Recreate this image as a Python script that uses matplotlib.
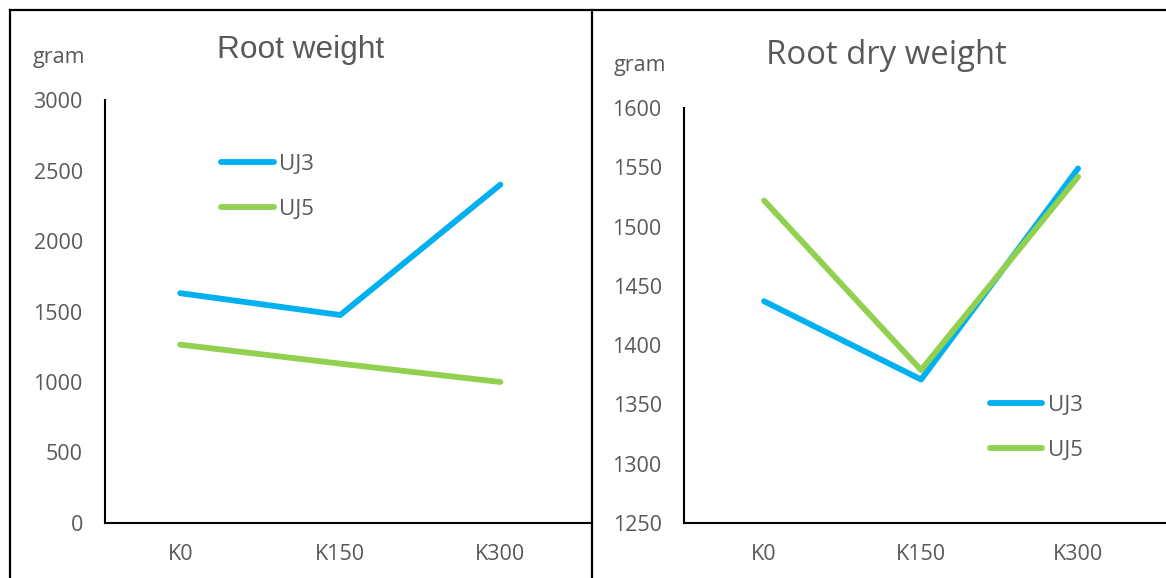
import matplotlib
matplotlib.use("Agg")
import matplotlib.pyplot as plt
from matplotlib.lines import Line2D

categories = ["K0", "K150", "K300"]

# fresh root weight (g)
root_uj3 = [1630, 1475, 2400]
root_uj5 = [1265, 1130, 1000]

# root dry weight (g)
dry_uj3 = [1437, 1371, 1549]
dry_uj5 = [1522, 1379, 1542]

left_ticks = [0, 500, 1000, 1500, 2000, 2500, 3000]
right_ticks = [1250, 1300, 1350, 1400, 1450, 1500, 1550, 1600]

BLUE = "#00B0F0"
GREEN = "#92D050"
GREY = "#595959"
BODY_FONT = ["Open Sans", "DejaVu Sans"]

W, H = 1166, 578
fig = plt.figure(figsize=(W / 100, H / 100), dpi=100)


def px_rect(x0, y0, x1, y1):
    # pixel box (top-left origin) -> figure fraction rect
    return [x0 / W, 1 - y1 / H, (x1 - x0) / W, (y1 - y0) / H]


def style_axes(ax, ticks, ylim, xlim):
    ax.set_ylim(*ylim)
    ax.set_xlim(*xlim)
    ax.set_yticks(ticks)
    ax.set_xticks(range(len(categories)))
    ax.set_xticklabels(categories)
    for s in ("top", "right"):
        ax.spines[s].set_visible(False)
    for s in ("left", "bottom"):
        ax.spines[s].set_linewidth(1.5)
        ax.spines[s].set_color("black")
    ax.tick_params(axis="both", length=0, labelsize=15.5, labelcolor=GREY)
    ax.tick_params(axis="y", pad=16)
    ax.tick_params(axis="x", pad=15)
    for lab in ax.get_xticklabels() + ax.get_yticklabels():
        lab.set_family(BODY_FONT)


def add_legend(ax, x, y):
    ax.legend(loc="upper left", bbox_to_anchor=(x, y), frameon=False,
              handlelength=2.35, handletextpad=0.25, labelspacing=1.08,
              borderpad=0, borderaxespad=0, labelcolor=GREY,
              prop={"family": BODY_FONT, "size": 16})


ax1 = fig.add_axes(px_rect(105, 100, 590, 523))
ax1.plot(range(3), root_uj3, color=BLUE, lw=4.2, solid_capstyle="round", label="UJ3")
ax1.plot(range(3), root_uj5, color=GREEN, lw=4.2, solid_capstyle="round", label="UJ5")
style_axes(ax1, left_ticks, (0, 3000), (-0.47, 2.56))
add_legend(ax1, 0.24, 0.872)

ax2 = fig.add_axes(px_rect(684, 108, 1166, 523))
ax2.plot(range(3), dry_uj3, color=BLUE, lw=4.2, solid_capstyle="round", label="UJ3")
ax2.plot(range(3), dry_uj5, color=GREEN, lw=4.2, solid_capstyle="round", label="UJ5")
style_axes(ax2, right_ticks, (1250, 1600), (-0.51, 2.56))
add_legend(ax2, 0.635, 0.309)

# titles and unit labels
fig.text(301 / W, 1 - 50 / H, "Root weight", ha="center", va="center",
         color=GREY, fontsize=22.8, family="Liberation Sans")
fig.text(886 / W, 1 - 55 / H, "Root dry weight", ha="center", va="center",
         color=GREY, fontsize=23.7, family=BODY_FONT)
fig.text(59 / W, 1 - 58 / H, "gram", ha="center", va="center",
         color=GREY, fontsize=15.5, family=BODY_FONT)
fig.text(640 / W, 1 - 65 / H, "gram", ha="center", va="center",
         color=GREY, fontsize=15.5, family=BODY_FONT)

# panel borders
for xs, ys in [((10 / W, 1), (1 - 10 / H, 1 - 10 / H)),
               ((10 / W, 10 / W), (0, 1 - 10 / H)),
               ((592 / W, 592 / W), (0, 1 - 10 / H))]:
    fig.add_artist(Line2D(xs, ys, color="black", lw=1.6, transform=fig.transFigure))

fig.savefig("out.png", dpi=100)
